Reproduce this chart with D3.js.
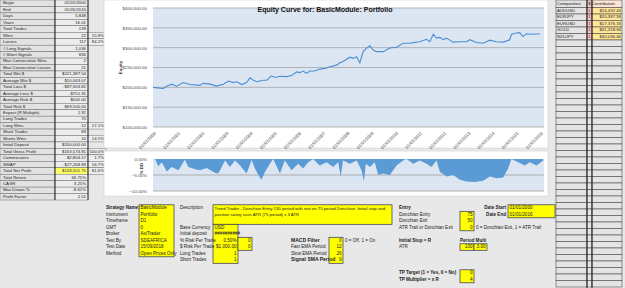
<!DOCTYPE html>
<html>
<head>
<meta charset="utf-8">
<script src="https://cdn.jsdelivr.net/npm/d3@7"></script>
<style>
  body { margin: 0; background: #e8e8e8; }
  svg { display: block; font-family: "Liberation Sans", Arial, sans-serif; }
</style>
</head>
<body>
<svg width="625" height="288"></svg>
<script>
// ---- сводная таблица слева ----
const statLabels = ["Begin", "End", "Days", "Years", "Total Trades", "Wins", "Losses", "# Long Signals",
  "# Short Signals", "Max Consecutive Wins", "Max Consecutive Losses", "Total Win $", "Average Win $",
  "Total Loss $", "Average Loss $", "Average Risk $", "Total Risk $", "Expect (R Multiple)", "Long Trades",
  "Long Wins", "Short Trades", "Shorts Wins", "Initial Deposit", "Total Gross Profit", "Commissions",
  "SWAP", "Total Net Profit", "Total Return", "CAGR", "Max Drawn %", "Profit Factor"];
const statValues = ["01/01/2000", "01/05/2016", "5,848", "16.01", "139", "22", "117", "1,036", "836", "2", "21",
  "$221,387.54", "$10,063.07", "-$87,903.82", "-$751.31", "$500.00", "$69,500.00", "1.92", "70", "12", "69",
  "10", "$200,000.00", "$163,574.81", "-$2,804.17", "-$27,268.89", "$133,501.75", "66.75%", "3.25%",
  "-8.61%", "2.52"];
const statPcts = ["", "", "", "", "", "15.8%", "84.2%", "", "", "", "", "", "", "", "", "", "", "", "",
  "17.1%", "", "14.5%", "", "100.0%", "1.7%", "16.7%", "81.6%", "", "", "", ""];

// ---- вклад инструментов справа ----
const compSymbols = ["AUDUSD", "EURJPY", "EURUSD", "GOLD", "NZDJPY"];
const compFlags = ["1", "1", "1", "1", "1"];
const compContrib = ["$24,432.44", "$20,397.58", "$17,376.33", "$41,258.94", "$30,036.46"];

// ---- кривая капитала ----
const equityTicks = [100000, 150000, 200000, 250000, 300000, 350000, 400000];
const equityDates = ["2000-01-01", "2000-06-05", "2000-07-26", "2000-10-08", "2000-12-24", "2001-04-01",
  "2001-07-12", "2001-12-10", "2002-01-30", "2002-05-12", "2002-08-18", "2002-11-28", "2003-02-14",
  "2003-04-27", "2003-06-17", "2003-09-02", "2003-11-14", "2004-01-05", "2004-02-24", "2004-04-16",
  "2004-06-03", "2004-07-24", "2004-09-13", "2004-11-25", "2005-01-16", "2005-04-01", "2005-07-09",
  "2005-09-24", "2005-12-10", "2006-01-27", "2006-03-18", "2006-05-08", "2006-06-28", "2006-09-09",
  "2006-11-24", "2007-03-03", "2007-04-23", "2007-08-04", "2007-09-24", "2007-11-10", "2008-02-21",
  "2008-04-12", "2008-06-03", "2008-07-20", "2008-09-09", "2008-10-30", "2008-12-20", "2009-02-06",
  "2009-03-29", "2009-07-09", "2009-10-16", "2010-01-26", "2010-05-04", "2010-08-14", "2010-11-24",
  "2011-01-12", "2011-04-23", "2011-06-13", "2011-08-04", "2011-09-21", "2011-11-10", "2012-01-01",
  "2012-02-17", "2012-05-30", "2012-09-09", "2012-12-16", "2013-02-06", "2013-05-16", "2013-08-25",
  "2013-12-06", "2014-03-14", "2014-06-25", "2014-10-01", "2014-10-27", "2015-01-08", "2015-02-28",
  "2015-04-20", "2015-06-10", "2015-09-16", "2015-12-28"];
const equityValues = [200000, 197000, 203000, 208000, 203000, 212000, 207000, 205000, 210000, 208000,
  203000, 208000, 216000, 212000, 214000, 207000, 212000, 224000, 218000, 214000, 216000, 218000, 218000,
  229000, 225000, 228000, 227000, 230000, 239000, 237000, 241000, 235000, 241000, 241000, 246000, 248000,
  252000, 256000, 262000, 265000, 276000, 273000, 277000, 262000, 290000, 299000, 305000, 294000, 290000,
  290000, 299000, 301000, 311000, 311000, 314000, 315000, 321000, 315000, 334000, 324000, 326000, 320000,
  324000, 314000, 315000, 315000, 320000, 313000, 311000, 319000, 315000, 314000, 320000, 334000, 337000,
  338000, 328000, 335000, 334000, 335000];

// ---- просадка, % ----
const ddTicks = [0, -5, -10];
const ddDates = ["2000-01-01", "2000-01-30", "2000-03-22", "2000-05-12", "2000-07-27", "2000-10-08",
  "2001-01-19", "2001-04-27", "2001-06-17", "2001-09-27", "2001-12-10", "2002-03-20", "2002-07-23",
  "2002-09-13", "2002-12-24", "2003-03-08", "2003-05-23", "2003-08-08", "2003-11-14", "2004-01-30",
  "2004-03-18", "2004-05-23", "2004-06-28", "2004-08-19", "2004-10-31", "2004-12-20", "2005-04-01",
  "2005-06-13", "2005-09-24", "2006-01-01", "2006-03-18", "2006-06-03", "2006-08-15", "2006-11-24",
  "2007-03-07", "2007-06-13", "2007-08-29", "2007-10-05", "2007-11-10", "2008-02-21", "2008-06-03",
  "2008-08-15", "2008-09-20", "2008-10-19", "2008-12-20", "2009-03-03", "2009-04-23", "2009-07-09",
  "2009-10-16", "2010-01-26", "2010-05-04", "2010-06-25", "2010-10-05", "2011-01-12", "2011-04-23",
  "2011-07-08", "2011-09-21", "2011-11-10", "2012-02-21", "2012-05-30", "2012-09-09", "2012-12-16",
  "2013-04-23", "2013-08-25", "2013-12-06", "2014-03-14", "2014-06-25", "2014-09-06", "2014-10-27",
  "2015-02-06", "2015-05-16", "2015-07-31", "2015-11-10", "2016-02-18"];
const ddValues = [0, 0, -2.3, -1, -3.9, -2.5, -3.5, -0.2, -2.5, -3.2, -3.5, -2.8, -4.3, -4.5, -0.5, -2.5,
  -0.5, -2, -4.5, -0.3, -3, -5.5, -6.5, -4, -1.5, 0, -4.5, -0.5, -3.5, -1.5, -3, -1, 0, -2, -1, -2.5, -1,
  -5.5, -0.5, -1.5, -0.5, -3.5, -7, -1.5, -2.5, -1, -5, -4.5, -5, -2, -0.5, 0, -1.5, -0.5, -1.5, -2.5,
  -0.5, -4, -5.5, -5, -6.5, -7, -7.2, -6.8, -5.5, -6, -5.8, -3, 0, -1, -2, -1, -2, -0.5];

// ---- параметры стратегии внизу ----
const infoLabels = ["Strategy Name:", "Instrument", "Timeframe", "GMT", "Broker", "Test By", "Test Date", "Method"];
const infoValues = ["BasicModule", "Portfolio", "D1", "0", "AxiTrader", "SDEAFRICA", "15/09/2018", "Open Prices Only"];
const descLines = ["Trend Trader - Donchian Entry 130 period with exit on 75 period Donchian. Initial stop and",
  "position sizing uses ATR (75 period) x 3 ATR"];
const riskLabels = ["Base Currency", "Initial deposit", "% Risk Per Trade", "$ Risk Per Trade", "Long Trades", "Short Trades"];
const riskValues = ["USD", "##########", "0.50%", "$1,000.00", "1", "1"];
const riskSide = ["", "", "0", "0", "", ""];
const macdLabels = ["MACD Filter", "Fast EMA Period", "Slow EMA Period", "Signal SMA Period"];
const macdValues = ["0", "12", "26", "9"];
const entryLabels = ["Donchian Entry", "Donchian Exit", "ATR Trail or Donchian Exit"];
const entryValues = ["75", "50", "0"];
const dateLabels = ["Date Start", "Date End"];
const dateValues = ["01/01/2000", "01/01/2016"];
const stopValues = ["100", "3.00"];
const tpLabels = ["TP Target (1 = Yes, 0 = No)", "TP Multiplier = x R"];
const tpValues = ["0", "4"];

const parseDate = d3.timeParse("%Y-%m-%d");
const svg = d3.select("svg");
const FS = 4.6;
const textCol = "#222";
const yellow = "#ffff00";

function txt(g, x, y, s, opt = {}) {
  return g.append("text")
    .attr("x", x).attr("y", y)
    .attr("font-size", opt.size || FS)
    .attr("font-weight", opt.bold ? "bold" : null)
    .attr("text-anchor", opt.anchor || "start")
    .attr("dominant-baseline", "middle")
    .attr("fill", opt.color || textCol)
    .text(s);
}

// ================= левая таблица =================
function drawStats() {
  const g = svg.append("g");
  const rowY = d3.scaleBand().domain(d3.range(statLabels.length)).range([0, 200]);
  const h = rowY.bandwidth();

  statLabels.forEach((lab, i) => {
    const y = rowY(i);
    g.append("rect").attr("x", 0).attr("y", y).attr("width", 55).attr("height", h)
      .attr("fill", "#e2e2e2").attr("stroke", "#555").attr("stroke-width", 0.4);
    g.append("rect").attr("x", 55).attr("y", y).attr("width", 33).attr("height", h)
      .attr("fill", lab === "Total Net Profit" ? "#ffff66" : "#ededed")
      .attr("stroke", "#555").attr("stroke-width", 0.4);
    txt(g, 3, y + h / 2, lab, {size: 4.3});
    txt(g, 86, y + h / 2, statValues[i], {size: 4.3, anchor: "end"});
    if (statPcts[i]) {
      g.append("rect").attr("x", 88).attr("y", y).attr("width", 18).attr("height", h)
        .attr("fill", "#ededed").attr("stroke", "#555").attr("stroke-width", 0.4);
      txt(g, 104, y + h / 2, statPcts[i], {size: 4.3, anchor: "end"});
    }
  });
  g.append("line").attr("x1", 55).attr("x2", 55).attr("y1", 0).attr("y2", 200)
    .attr("stroke", "#222").attr("stroke-width", 0.9);
  g.append("line").attr("x1", 88).attr("x2", 88).attr("y1", 0).attr("y2", 200)
    .attr("stroke", "#222").attr("stroke-width", 0.9);
}

// ================= графики =================
const x = d3.scaleTime()
  .domain([new Date(2000, 0, 1), new Date(2016, 0, 1)])
  .range([153, 540]);
const plotLeft = x(new Date(2000, 0, 1));
const plotRight = x(new Date(2016, 2, 1));

function drawEquity() {
  const g = svg.append("g");
  g.append("rect").attr("x", 104).attr("y", 0).attr("width", 444).attr("height", 148)
    .attr("fill", "#fff").attr("stroke", "#d0d0d0").attr("stroke-width", 0.6);

  const y = d3.scaleLinear().domain([100000, 400000]).range([127, 8]);

  g.append("rect").attr("x", plotLeft).attr("y", y(400000))
    .attr("width", plotRight - plotLeft).attr("height", y(100000) - y(400000))
    .attr("fill", "#dce6f2");

  g.selectAll(".grid").data(equityTicks).enter().append("line")
    .attr("x1", plotLeft).attr("x2", plotRight)
    .attr("y1", d => y(d)).attr("y2", d => y(d))
    .attr("stroke", "#9c9c9c").attr("stroke-width", 0.7);

  const axY = g.append("g").attr("transform", `translate(${plotLeft - 3},0)`)
    .call(d3.axisLeft(y).tickValues(equityTicks).tickFormat(d3.format("$,.2f")).tickSize(0));
  axY.select(".domain").remove();
  axY.selectAll("text").attr("font-size", 4.4).attr("fill", "#444").attr("font-family", null);

  const axX = g.append("g").attr("transform", `translate(0,${y(100000) + 2})`)
    .call(d3.axisBottom(x).ticks(d3.timeYear.every(1)).tickFormat(d3.timeFormat("%m/%d/%Y")).tickSize(0));
  axX.select(".domain").remove();
  axX.selectAll("text")
    .attr("font-size", 4.4).attr("fill", "#444").attr("font-family", null)
    .style("text-anchor", "end")
    .attr("dx", "-0.3em").attr("dy", "0.5em")
    .attr("transform", "rotate(-45)");

  const pts = equityDates.map((d, i) => ({date: parseDate(d), v: equityValues[i]}));
  g.append("path").datum(pts)
    .attr("fill", "none").attr("stroke", "#4a8ed4").attr("stroke-width", 1.1)
    .attr("d", d3.line().x(d => x(d.date)).y(d => y(d.v)));

  g.append("text").attr("x", 325).attr("y", 10)
    .attr("font-size", 8).attr("font-weight", "bold").attr("text-anchor", "middle")
    .attr("dominant-baseline", "middle").attr("fill", "#111")
    .attr("textLength", 135).attr("lengthAdjust", "spacingAndGlyphs")
    .text("Equity Curve for: BasicModule: Portfolio");

  g.append("text").attr("transform", `translate(122,${y(250000)}) rotate(-90)`)
    .attr("font-size", 4.4).attr("font-weight", "bold").attr("text-anchor", "middle")
    .attr("fill", "#333").text("Equity");
}

function drawDrawdown() {
  const g = svg.append("g");
  g.append("rect").attr("x", 104).attr("y", 151).attr("width", 444).attr("height", 45)
    .attr("fill", "#fff").attr("stroke", "#d0d0d0").attr("stroke-width", 0.6);

  const y = d3.scaleLinear().domain([-10, 0]).range([191, 159]);

  g.append("rect").attr("x", plotLeft).attr("y", y(0))
    .attr("width", plotRight - plotLeft).attr("height", y(-10) - y(0))
    .attr("fill", "#dce6f2");

  g.selectAll(".grid").data(ddTicks.slice(1)).enter().append("line")
    .attr("x1", plotLeft).attr("x2", plotRight)
    .attr("y1", d => y(d)).attr("y2", d => y(d))
    .attr("stroke", "#a6a6a6").attr("stroke-width", 0.9);

  const pts = ddDates.map((d, i) => ({date: parseDate(d), v: ddValues[i]}));
  g.append("path").datum(pts)
    .attr("fill", "#5b9bd5")
    .attr("d", d3.area().x(d => x(d.date)).y0(y(0)).y1(d => y(d.v)));

  const axY = g.append("g").attr("transform", `translate(${plotLeft - 3},0)`)
    .call(d3.axisLeft(y).tickValues(ddTicks).tickFormat(d => d3.format(".2f")(d) + "%").tickSize(0));
  axY.select(".domain").remove();
  axY.selectAll("text").attr("font-size", 4.4).attr("fill", "#444").attr("font-family", null);

  g.append("text").attr("transform", `translate(143,${y(-3)}) rotate(-90)`)
    .attr("font-size", 4.4).attr("font-weight", "bold").attr("text-anchor", "middle")
    .attr("fill", "#333").text("% DD");
}

// ================= правая таблица =================
function drawComposition() {
  const g = svg.append("g");
  const headerH = 7.5;
  const nRows = 43;
  const rowY = d3.scaleBand().domain(d3.range(nRows)).range([headerH, headerH + nRows * 6.5]);
  const h = rowY.bandwidth();
  const cols = [556, 587, 592, 622];

  // заголовок
  g.append("rect").attr("x", cols[0]).attr("y", 0).attr("width", cols[1] - cols[0]).attr("height", headerH)
    .attr("fill", "#e2e2e2").attr("stroke", "#333").attr("stroke-width", 0.5);
  g.append("rect").attr("x", cols[1]).attr("y", 0).attr("width", cols[2] - cols[1]).attr("height", headerH)
    .attr("fill", "#f2c6c4").attr("stroke", "#333").attr("stroke-width", 0.5);
  g.append("rect").attr("x", cols[2]).attr("y", 0).attr("width", cols[3] - cols[2]).attr("height", headerH)
    .attr("fill", "#fbe2d5").attr("stroke", "#333").attr("stroke-width", 0.5);
  txt(g, cols[0] + 1, headerH / 2, "Composition", {size: 4.3});
  txt(g, cols[1] + 1.2, headerH / 2, "$ Contribution", {size: 4.3});

  d3.range(nRows).forEach(i => {
    const y = rowY(i);
    const filled = i < compSymbols.length;
    g.append("rect").attr("x", cols[0]).attr("y", y).attr("width", cols[1] - cols[0]).attr("height", h)
      .attr("fill", "#e4e4e4").attr("stroke", "#333").attr("stroke-width", 0.5);
    g.append("rect").attr("x", cols[1]).attr("y", y).attr("width", cols[2] - cols[1]).attr("height", h)
      .attr("fill", filled ? "#f2c6c4" : "#e4e4e4").attr("stroke", "#333").attr("stroke-width", 0.5);
    g.append("rect").attr("x", cols[2]).attr("y", y).attr("width", cols[3] - cols[2]).attr("height", h)
      .attr("fill", filled ? "#ffe699" : "#e4e4e4").attr("stroke", "#333").attr("stroke-width", 0.5);
    if (filled) {
      txt(g, cols[0] + 1, y + h / 2, compSymbols[i], {size: 4.3});
      txt(g, (cols[1] + cols[2]) / 2, y + h / 2, compFlags[i], {size: 4.3, anchor: "middle", color: "#c00000"});
      txt(g, cols[3] - 1, y + h / 2, compContrib[i], {size: 4.3, anchor: "end"});
    }
  });
  [cols[1], cols[2]].forEach(cx => g.append("line")
    .attr("x1", cx).attr("x2", cx).attr("y1", 0).attr("y2", 288)
    .attr("stroke", "#222").attr("stroke-width", 1));
}

// ================= параметры стратегии =================
function drawForm() {
  const g = svg.append("g");
  const row = d3.scaleBand().domain(d3.range(13)).range([204.8, 204.8 + 13 * 6.5]);
  const h = row.bandwidth();

  function box(x0, x1, r0, r1) {
    g.append("rect").attr("x", x0).attr("y", row(r0)).attr("width", x1 - x0)
      .attr("height", row(r1) + h - row(r0))
      .attr("fill", yellow).attr("stroke", "#2f2f5f").attr("stroke-width", 0.7);
  }
  const cy = r => row(r) + h / 2;

  // блок стратегии
  box(139, 174, 0, infoLabels.length - 1);
  infoLabels.forEach((lab, i) => {
    txt(g, 106, cy(i), lab, {bold: i === 0});
    txt(g, 140.5, cy(i), infoValues[i]);
  });

  // описание
  txt(g, 180, cy(0), "Description");
  box(213, 392, 0, 2);
  descLines.forEach((s, i) => txt(g, 214.5, cy(i) + 0.5, s, {size: 4.3}));

  // риск
  box(213, 238, 3, 8);
  box(238, 252, 5, 6);
  riskLabels.forEach((lab, i) => {
    const r = i + 3;
    txt(g, 180, cy(r), lab);
    if (i < 2) txt(g, 214.5, cy(r), riskValues[i]);
    else txt(g, 236.5, cy(r), riskValues[i], {anchor: "end"});
    if (riskSide[i]) txt(g, 250.5, cy(r), riskSide[i], {anchor: "end"});
  });

  // MACD
  box(329, 343, 5, 8);
  macdLabels.forEach((lab, i) => {
    const r = i + 5;
    const big = i === 0 || i === 3;
    txt(g, 291, cy(r), lab, {bold: big, size: big ? 5 : FS});
    txt(g, 341.5, cy(r), macdValues[i], {anchor: "end"});
  });
  txt(g, 345, cy(5), "0 = Off, 1 = On");

  // вход
  txt(g, 399, cy(0), "Entry", {bold: true});
  box(460, 474, 1, 3);
  entryLabels.forEach((lab, i) => {
    txt(g, 399, cy(i + 1), lab);
    txt(g, 472.5, cy(i + 1), entryValues[i], {anchor: "end"});
  });
  txt(g, 476, cy(3), "0 = Donchian Exit, 1 = ATR Trail");

  // даты
  box(508, 555, 0, 1);
  dateLabels.forEach((lab, i) => {
    txt(g, 506, cy(i), lab, {anchor: "end", bold: true});
    txt(g, 509.5, cy(i), dateValues[i]);
  });

  // стоп
  txt(g, 399, cy(5), "Initial Stop = R", {bold: true});
  txt(g, 460, cy(5), "Period Multi", {bold: true});
  txt(g, 399, cy(6), "ATR");
  box(460, 474, 6, 6);
  box(474, 487, 6, 6);
  txt(g, 472.5, cy(6), stopValues[0], {anchor: "end"});
  txt(g, 485.5, cy(6), stopValues[1], {anchor: "end"});

  // тейк-профит
  box(460, 474, 10, 11);
  tpLabels.forEach((lab, i) => {
    txt(g, 399, cy(10 + i), lab, {bold: true});
    txt(g, 472.5, cy(10 + i), tpValues[i], {anchor: "end"});
  });
}

drawStats();
drawEquity();
drawDrawdown();
drawComposition();
drawForm();
</script>
</body>
</html>
